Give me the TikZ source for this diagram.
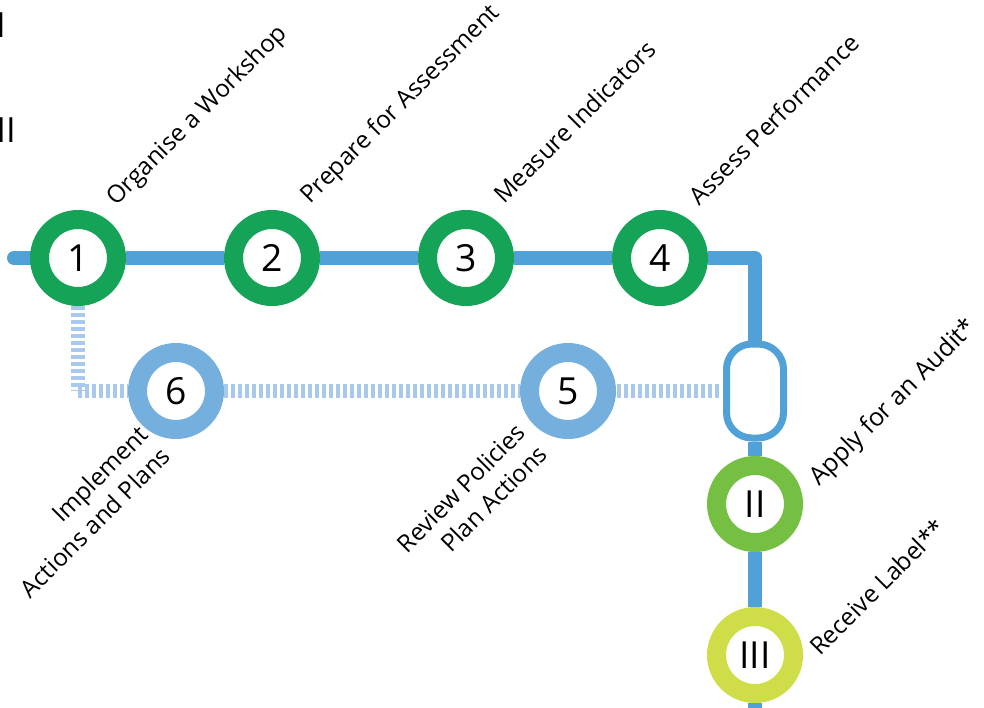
\documentclass[tikz,border=0pt]{standalone}
\usepackage{fontspec}
\setmainfont{Open Sans}
\usetikzlibrary{backgrounds}

\definecolor{stepgreen}{RGB}{21,163,87}
\definecolor{trackblue}{RGB}{80,161,215}
\definecolor{ringblue}{RGB}{117,175,222}
\definecolor{dashblue}{RGB}{168,200,236}
\definecolor{auditgreen}{RGB}{117,191,67}
\definecolor{labelyellow}{RGB}{207,221,72}

\tikzset{every picture/.style={line width=0.75pt}}
\tikzset{
  station/.style={circle, draw=#1, fill=white, line width=14.25pt, minimum size=57.75pt, inner sep=0pt, font=\fontsize{28}{34}\selectfont},
  steplabel/.style={rotate=45, inner sep=0pt, font=\fontsize{18.2}{23}\selectfont},
  track/.style={draw=trackblue, line width=10.5pt},
  dashtrack/.style={draw=dashblue, line width=10.5pt, dash pattern=on 3pt off 2.25pt},
  auditbox/.style={draw=trackblue, fill=white, line width=5.25pt, rounded corners=19pt, minimum width=42.75pt, minimum height=70.5pt, inner sep=0pt}
}

\begin{document}
\begin{tikzpicture}[x=0.75pt,y=0.75pt,yscale=-1,xscale=1]
	\useasboundingbox (0,0) rectangle (984,707);

	% Stations on the main line
	\node[station=stepgreen] (n1) at (78,258) {1};
	\node[station=stepgreen] (n2) at (272,258) {2};
	\node[station=stepgreen] (n3) at (466,258) {3};
	\node[station=stepgreen] (n4) at (660,258) {4};
	% Stations on the return line
	\node[station=ringblue] (n5) at (568,391) {5};
	\node[station=ringblue] (n6) at (176,391) {6};
	% Audit box and label stations
	\node[auditbox] (audit) at (755,391) {};
	\node[station=auditgreen] (nII) at (755,504) {II};
	\node[station=labelyellow] (nIII) at (755,655) {III};

	% Track corners and ends
	\coordinate (start) at (14,258);
	\coordinate (bend) at (755,258);
	\coordinate (finish) at (755,715);
	\coordinate (turn) at (78,391);

	\begin{pgfonlayer}{background}
	% Main line
	\draw[track, line cap=round] (start) -- (n1);
	\draw[track] (n1) -- (n2);
	\draw[track] (n2) -- (n3);
	\draw[track] (n3) -- (n4);
	\draw[track, line join=round] (n4) -- (bend) -- (audit);
	\draw[track] (audit) -- (nII);
	\draw[track] (nII) -- (nIII);
	\draw[track] (nIII) -- (finish);
	% Dashed return line
	\draw[dashtrack] (n1) -- (turn);
	\draw[dashtrack] (turn) -- (n6);
	\draw[dashtrack] (n6) -- (n5);
	\draw[dashtrack] ([xshift=-3pt]audit.west) -- (n5);
	\end{pgfonlayer}

	% Text Node
	\node[steplabel, anchor=base west] at (116,207) {Organise a Workshop};
	% Text Node
	\node[steplabel, anchor=base west] at (310,205) {Prepare for Assessment};
	% Text Node
	\node[steplabel, anchor=base west] at (504,205) {Measure Indicators};
	% Text Node
	\node[steplabel, anchor=base west] at (699,207) {Assess Performance};
	% Text Node
	\node[steplabel, font=\fontsize{18.8}{23}\selectfont, anchor=base west] at (819,487) {Apply for an Audit*};
	% Text Node
	\node[steplabel, anchor=base west] at (820,657) {Receive Label**};
	% Text Node
	\node[steplabel, anchor=north east, align=right] at (137,423) {Implement\\Actions and Plans};
	% Text Node
	\node[steplabel, anchor=north east, align=right] at (514,421) {Review Policies\\Plan Actions};
	% Text Node
	\node[anchor=base east, inner sep=0pt, font=\fontsize{26}{30}\selectfont] at (6,37) {I};
	% Text Node
	\node[anchor=base east, inner sep=0pt, font=\fontsize{26}{30}\selectfont] at (16,142) {II};

\end{tikzpicture}
\end{document}
